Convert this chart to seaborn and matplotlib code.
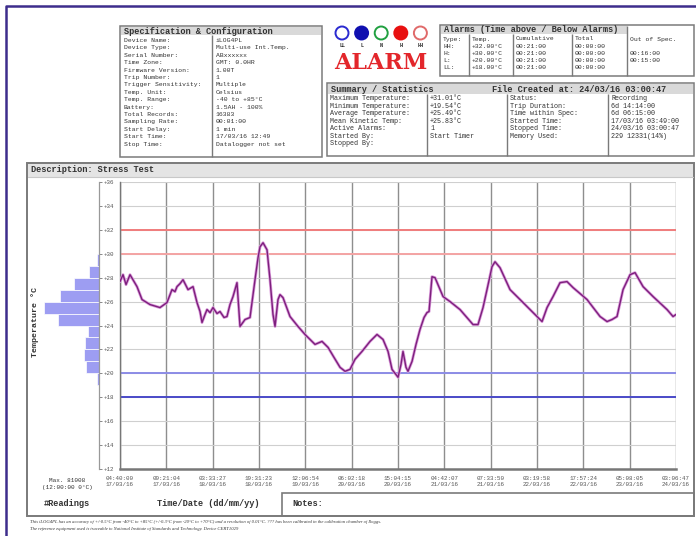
import numpy as np
import pandas as pd
import matplotlib
matplotlib.use("Agg")
import matplotlib.pyplot as plt
import seaborn as sns
from matplotlib.patches import Rectangle, Circle
import matplotlib.patheffects as pe

# ---------------- data ----------------
tick_pos = list(range(13))
tick_times = ["04:40:00", "09:21:04", "03:33:27", "19:31:23", "12:06:54", "06:02:18", "15:04:15",
              "04:42:07", "07:33:50", "03:19:58", "17:57:24", "05:08:05", "03:06:47"]
tick_dates = ["17/03/16", "17/03/16", "18/03/16", "18/03/16", "19/03/16", "20/03/16", "20/03/16",
              "21/03/16", "21/03/16", "22/03/16", "22/03/16", "23/03/16", "24/03/16"]
temp_ticks = list(range(12, 37, 2))

# logged temperature trace (x in tick-interval units, y in deg C)
trace_pos = [0.00, 0.065, 0.13, 0.216, 0.367, 0.475, 0.648, 0.863, 1.014, 1.122, 1.187, 1.230, 1.295,
             1.360, 1.468, 1.576, 1.662, 1.727, 1.770, 1.835, 1.878, 1.943, 2.007, 2.094, 2.158, 2.245,
             2.309, 2.374, 2.439, 2.525, 2.590, 2.698, 2.806, 2.914, 2.979, 3.022, 3.087, 3.173, 3.238,
             3.302, 3.346, 3.410, 3.453, 3.518, 3.669, 3.842, 3.993, 4.209, 4.360, 4.490, 4.619, 4.749,
             4.857, 4.964, 5.072, 5.223, 5.396, 5.547, 5.677, 5.785, 5.871, 6.001, 6.065, 6.108, 6.173,
             6.216, 6.303, 6.389, 6.475, 6.562, 6.626, 6.670, 6.734, 6.799, 6.972, 7.123, 7.339, 7.619,
             7.727, 7.835, 7.921, 8.029, 8.094, 8.202, 8.418, 8.634, 8.871, 9.109, 9.217, 9.346, 9.497,
             9.648, 9.778, 10.080, 10.361, 10.512, 10.619, 10.727, 10.857, 11.008, 11.116, 11.289,
             11.505, 11.807, 11.936, 12.0]
trace_temp = [27.67, 28.25, 27.42, 28.25, 27.25, 26.17, 25.75, 25.50, 25.92, 27.00, 26.83, 27.25, 27.50,
              27.83, 27.00, 27.25, 25.92, 25.17, 24.25, 24.92, 25.33, 25.08, 25.50, 25.00, 25.17, 24.67,
              24.75, 25.75, 26.42, 27.58, 23.92, 24.50, 24.67, 27.83, 29.67, 30.58, 30.92, 30.33, 27.83,
              24.92, 23.92, 26.17, 26.58, 26.33, 24.75, 23.92, 23.25, 22.42, 22.67, 22.17, 21.33, 20.50,
              20.17, 20.33, 21.17, 21.83, 22.67, 23.25, 22.83, 21.83, 20.33, 19.67, 20.75, 21.83, 20.50,
              20.17, 21.00, 22.42, 23.67, 24.67, 25.08, 25.17, 28.08, 28.00, 26.42, 26.00, 25.33, 24.08,
              24.08, 25.50, 27.00, 28.92, 29.33, 28.83, 27.00, 26.17, 25.25, 24.33, 25.50, 26.42, 27.58,
              27.67, 27.17, 26.17, 24.75, 24.33, 24.50, 24.75, 27.00, 28.25, 28.42, 27.25,
              26.42, 25.33, 24.75, 24.92]

# distribution of readings per 1 deg C bin
hist_edges = [19, 20, 21, 22, 23, 24, 25, 26, 27, 28, 29, 30]
hist_centers = [19.5, 20.5, 21.5, 22.5, 23.5, 24.5, 25.5, 26.5, 27.5, 28.5, 29.5]
hist_counts = [84, 544, 627, 585, 460, 1714, 2300, 1631, 1045, 418, 84]

alarm_levels = [32, 30, 20, 18]
alarm_colors = ["#f07c7c", "#f4a3a3", "#8c8ce6", "#4a4ac8"]

spec_labels = ["Device Name:", "Device Type:", "Serial Number:", "Time Zone:", "Firmware Version:",
               "Trip Number:", "Trigger Sensitivity:", "Temp. Unit:", "Temp. Range:", "Battery:",
               "Total Records:", "Sampling Rate:", "Start Delay:", "Start Time:", "Stop Time:"]
spec_values = ["iLOG4PL", "Multi-use Int.Temp.", "ABxxxxxx", "GMT: 0.0HR", "1.00T", "1", "Multiple",
               "Celsius", "-40 to +85°C", "1.5AH - 100%", "16383", "00:01:00", "1 min",
               "17/03/16 12:49", "Datalogger not set"]

alarm_types = ["HH:", "H:", "L:", "LL:"]
alarm_temps = ["+32.00°C", "+30.00°C", "+20.00°C", "+18.00°C"]
alarm_cumul = ["00:21:00", "00:21:00", "00:21:00", "00:21:00"]
alarm_total = ["00:00:00", "00:00:00", "00:00:00", "00:00:00"]
alarm_oos = ["", "00:16:00", "00:15:00", ""]

sum_labels = ["Maximum Temperature:", "Minimum Temperature:", "Average Temperature:",
              "Mean Kinetic Temp:", "Active Alarms:", "Started By:", "Stopped By:"]
sum_values = ["+31.01°C", "+19.54°C", "+25.49°C", "+25.83°C", "1", "Start Timer", ""]
stat_labels = ["Status:", "Trip Duration:", "Time within Spec:", "Started Time:", "Stopped Time:",
               "Memory Used:"]
stat_values = ["Recording", "6d 14:14:00", "6d 06:15:00", "17/03/16 03:49:00", "24/03/16 03:00:47",
               "229 12331(14%)"]

led_labels = ["LL", "L", "N", "H", "HH"]
led_face = ["white", "#1010b0", "white", "#e81010", "white"]
led_edge = ["#2a2ad0", "#1010b0", "#20a040", "#e81010", "#e06a6a"]

# ---------------- figure ----------------
sns.set_style("white")
MONO = "Liberation Mono"
plt.rcParams["font.family"] = ["DejaVu Sans"]

W, H = 696, 536
fig = plt.figure(figsize=(W / 100, H / 100), dpi=100)
fig.patch.set_facecolor("white")
bg = fig.add_axes([0, 0, 1, 1], zorder=0)
bg.set_xlim(0, W)
bg.set_ylim(H, 0)
bg.axis("off")

GRAY = "#7a7a7a"
HEAD = "#d9d9d9"
TXT = "#333333"


def box(x0, y0, x1, y1, lw=1.1, ec=GRAY, fc="none", z=1):
    bg.add_patch(Rectangle((x0, y0), x1 - x0, y1 - y0, lw=lw, ec=ec, fc=fc, zorder=z))


def vline(x, y0, y1, lw=1.0, c=GRAY):
    bg.plot([x, x], [y0, y1], color=c, lw=lw, zorder=2, solid_capstyle="butt")


def txt(x, y, s, size=4.8, weight="normal", ha="left", color=TXT, **kw):
    bg.text(x, y, s, fontsize=size, fontweight=weight, ha=ha, va="center",
            family=MONO, color=color, zorder=3, **kw)


# outer frame
bg.plot([6, 6, 700], [540, 6, 6], color="#3d2d8c", lw=1.8, zorder=1)

# ---- specification box ----
box(120, 26, 322, 157, fc="none")
bg.add_patch(Rectangle((121, 27), 200, 8, fc=HEAD, ec="none", zorder=1))
txt(124, 31, "Specification & Configuration", size=6.2, weight="bold")
vline(212, 35, 157)
for i, (lab, val) in enumerate(zip(spec_labels, spec_values)):
    y = 40.5 + i * 7.4
    txt(124, y, lab, size=4.6)
    txt(216, y, val, size=4.6)

# ---- alarm logo ----
for i, (fcol, ecol, lab) in enumerate(zip(led_face, led_edge, led_labels)):
    cx = 342 + i * 19.6
    bg.add_patch(Circle((cx, 33), 6.5, fc=fcol, ec=ecol, lw=1.4, zorder=3))
    txt(cx, 45.5, lab, size=3.6, weight="bold", ha="center", color="#222")
bg.text(381, 63, "ALARM", fontsize=16, fontweight="bold", family="DejaVu Serif", color="#e3262b",
        ha="center", va="center", zorder=3)

# ---- alarms table ----
box(440, 25, 694, 76)
bg.add_patch(Rectangle((441, 26), 186, 8, fc=HEAD, ec="none", zorder=1))
txt(444, 30, "Alarms (Time above / Below Alarms)", size=6.2, weight="bold")
for x in [469, 513, 572]:
    vline(x, 34, 76)
vline(627, 26, 76)
col_x = [443, 472, 516, 575, 630]
for x, s in zip(col_x, ["Type:", "Temp.", "Cumulative", "Total", "Out of Spec."]):
    txt(x, 39, s, size=4.6)
for i in range(4):
    y = 46 + i * 7.2
    for x, s in zip(col_x, [alarm_types[i], alarm_temps[i], alarm_cumul[i], alarm_total[i], alarm_oos[i]]):
        txt(x, y, s, size=4.6)

# ---- summary box ----
box(327, 83, 694, 156)
bg.add_patch(Rectangle((328, 84), 365, 10, fc=HEAD, ec="none", zorder=1))
txt(331, 89, "Summary / Statistics", size=6.2, weight="bold")
txt(492, 89, "File Created at: 24/03/16 03:00:47", size=6.2, weight="bold")
for x in [427, 507, 608]:
    vline(x, 94, 156)
for i, (lab, val) in enumerate(zip(sum_labels, sum_values)):
    y = 99 + i * 7.4
    txt(330, y, lab, size=4.9)
    txt(430, y, val, size=4.9)
for i, (lab, val) in enumerate(zip(stat_labels, stat_values)):
    y = 99 + i * 7.4
    txt(510, y, lab, size=4.9)
    txt(611, y, val, size=4.9)

# ---- main panel ----
box(27, 163, 694, 516, lw=1.4)
bg.add_patch(Rectangle((28, 164), 665, 13, fc="#e4e4e4", ec="none", zorder=1))
bg.plot([28, 693], [177, 177], color="#c8c8c8", lw=0.8, zorder=1)
txt(31, 170, "Description: Stress Test", size=6.2, weight="bold")
bg.text(35, 322, "Temperature °C", rotation=90, fontsize=6.0, fontweight="bold",
        family=MONO, color=TXT, ha="center", va="center", zorder=3)

txt(67, 480, "Max. 81008", size=4.3, ha="center")
txt(67, 487, "(12:00:00 0°C)", size=4.3, ha="center")
txt(67, 504, "#Readings", size=6.2, weight="bold", ha="center")
txt(208, 504, "Time/Date (dd/mm/yy)", size=6.2, weight="bold", ha="center")
box(282, 493, 694, 516, lw=1.2)
txt(292, 504, "Notes:", size=6.2, weight="bold")

bg.text(30, 522, "This iLOG4PL has an accuracy of +/-0.5°C from -40°C to +85°C (+/-0.3°C from -20°C to +70°C) "
        "and a resolution of 0.01°C. ??? has been calibrated in the calibration chamber of Iloggs.",
        fontsize=3.3, style="italic", color="#333", va="center", family="Liberation Serif", zorder=3)
bg.text(30, 529, "The reference equipment used is traceable to National Institute of Standards and "
        "Technology. Device CERT1029",
        fontsize=3.3, style="italic", color="#333", va="center", family="Liberation Serif", zorder=3)


def fig_rect(x0, y0, x1, y1):
    return [x0 / W, 1 - y1 / H, (x1 - x0) / W, (y1 - y0) / H]


# ---- main chart ----
ax = fig.add_axes(fig_rect(120, 182, 676, 469), zorder=2)
ax.set_facecolor("white")
for lvl, col in zip(alarm_levels, alarm_colors):
    ax.axhline(lvl, color=col, lw=1.4, zorder=2)

df = pd.DataFrame({"pos": trace_pos, "temp": trace_temp})
sns.lineplot(data=df, x="pos", y="temp", ax=ax, color="#7d1f7d", lw=1.0,
             estimator=None, sort=False, zorder=4)
ax.lines[-1].set_path_effects([pe.Stroke(linewidth=2.1, foreground="#d99ad9"), pe.Normal()])

ax.set_xlim(0, 12)
ax.set_ylim(12, 36)
ax.set_xticks(tick_pos)
ax.set_xticklabels([f"{t}\n{d}" for t, d in zip(tick_times, tick_dates)],
                   fontsize=4.2, family=MONO, color="#555", linespacing=1.25)
ax.set_yticks(temp_ticks)
ax.set_yticklabels([f"+{v}" for v in temp_ticks], fontsize=4.2, family=MONO, color="#555")
ax.grid(axis="y", color="#cfcfcf", lw=0.8, zorder=0)
ax.grid(axis="x", color="#8e8e8e", lw=1.0, zorder=0)
ax.set_axisbelow(True)
ax.set_xlabel("")
ax.set_ylabel("")
ax.tick_params(axis="x", direction="inout", length=6, width=0.9, color="#777", pad=2)
ax.tick_params(axis="y", direction="out", length=3, width=0.7, color="#888", pad=1)
for s in ["top", "right"]:
    ax.spines[s].set_visible(False)
ax.spines["left"].set_color("#777")
ax.spines["left"].set_linewidth(1.0)
ax.spines["bottom"].set_color("#777")
ax.spines["bottom"].set_linewidth(1.8)

# ---- histogram of readings ----
axh = fig.add_axes(fig_rect(40, 182, 99, 469), zorder=2)
sns.histplot(y=hist_centers, weights=hist_counts, bins=hist_edges, ax=axh,
             color="#9d9df2", alpha=1, edgecolor="white", linewidth=0.5)
axh.set_xlim(2470, 0)
axh.set_ylim(12, 36)
axh.set_facecolor("none")
axh.set_xlabel("")
axh.set_ylabel("")
axh.set_xticks([])
axh.set_yticks(temp_ticks)
axh.tick_params(axis="y", left=False, right=True, labelleft=False, direction="out",
                length=2.5, width=0.7, color="#888")
for s in ["top", "left", "bottom"]:
    axh.spines[s].set_visible(False)
axh.spines["right"].set_color("#999")
axh.spines["right"].set_linewidth(0.9)

fig.savefig("out.png", dpi=100)
